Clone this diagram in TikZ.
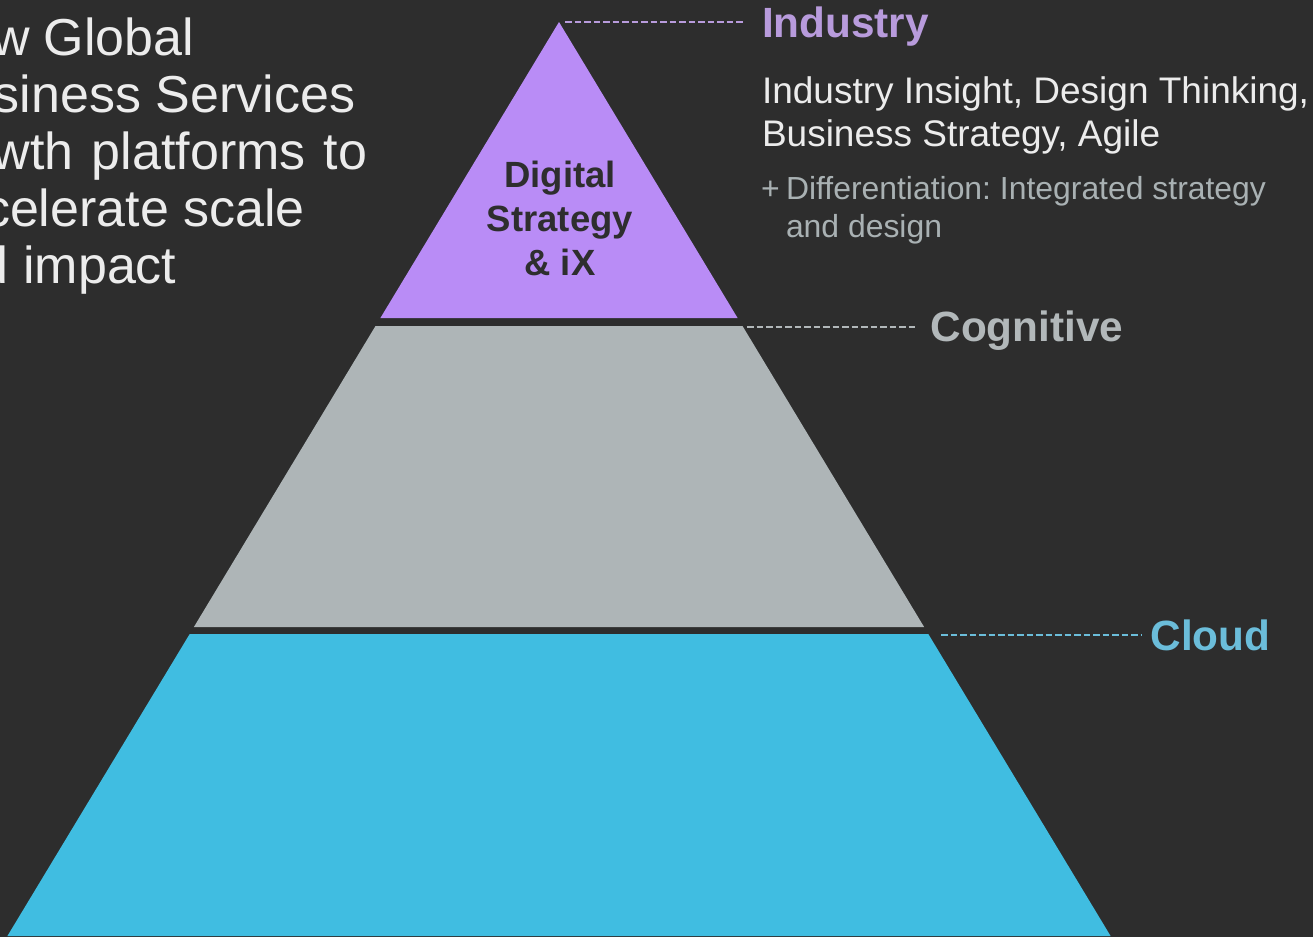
\documentclass[tikz,border=0pt]{standalone}
\usepackage{fontspec}
\setmainfont{Liberation Sans}
\usetikzlibrary{calc}
\frenchspacing

\definecolor{bg}{HTML}{2D2D2D}
\definecolor{purplefill}{HTML}{B98CF6}
\definecolor{purplelbl}{HTML}{B89BDC}
\definecolor{grayfill}{HTML}{AEB5B7}
\definecolor{graylbl}{HTML}{B2B8BA}
\definecolor{bluefill}{HTML}{40BDE1}
\definecolor{bluelbl}{HTML}{6BBDDA}
\definecolor{bodytext}{HTML}{ECECEC}
\definecolor{subtext}{HTML}{A9B1B3}
\definecolor{darktext}{HTML}{2E2E2E}

\tikzset{
  txt/.style={anchor=base west, inner sep=0pt, outer sep=0pt},
  tierlabel/.style={txt, font=\fontsize{42.3}{48}\selectfont\bfseries},
  leader/.style={line width=2pt, dash pattern=on 6.5pt off 3pt},
  headline/.style={txt, text=bodytext, font=\fontsize{52}{57}\selectfont},
  desc/.style={txt, text=bodytext, font=\fontsize{37}{43}\selectfont},
  subdesc/.style={txt, text=subtext, font=\fontsize{31.9}{38}\selectfont},
}

\begin{document}
\frenchspacing
\begin{tikzpicture}[x=1pt, y=-1pt]
\useasboundingbox (0,0) rectangle (1313,937);
\clip (0,0) rectangle (1313,937);
\fill[bg] (0,0) rectangle (1313,937);

% pyramid tiers: one triangle cut into three bands
\coordinate (apex) at (559,22);
\fill[purplefill] (apex) -- (737.6,318) -- (380.4,318) -- cycle;
\fill[grayfill] (375.5,326) -- (742.5,326) -- (924.1,627) -- (193.9,627) -- cycle;
\fill[bluefill] (189.7,634) -- (928.3,634) -- (1110.6,936) -- (7.4,936) -- cycle;

% top tier caption (base anchor sits on the last line)
\node[anchor=base, inner sep=0pt, align=center, text=darktext,
      font=\fontsize{36.5}{44}\selectfont\bfseries] (tiertext) at (560,275)
  {Digital\\Strategy\\\& iX};

% tier labels
\node[tierlabel, text=purplelbl] (industry) at (762,37) {Industry};
\node[tierlabel, text=graylbl] (cognitive) at (930.5,341) {Cognitive};
\node[tierlabel, text=bluelbl] (cloud) at (1150.5,650) {Cloud};

% leader lines
\coordinate (indA) at (565,22);  \coordinate (indB) at (745,22);
\coordinate (cogA) at (747,327); \coordinate (cogB) at (917,327);
\coordinate (clA) at (941,635);  \coordinate (clB) at (1142,635);
\draw[leader, purplelbl] (indA) -- (indB);
\draw[leader, graylbl] (cogA) -- (cogB);
\draw[leader, bluelbl] (clA) -- (clB);

% industry description
\node[desc] (desc1) at (762,103) {Industry Insight, Design Thinking,};
\node[desc] (desc2) at (762,146) {Business Strategy, Agile};
\node[subdesc] (plus) at (761,199) {+};
\node[subdesc] (diff1) at (786,199) {Differentiation: Integrated strategy};
\node[subdesc] (diff2) at (786,237) {and design};

% headline running off the left edge
\node[headline] (head1) at (-8,55) {w Global};
\node[headline] (head2) at (-6,112) {siness Services};
\node[headline] (head3) at (-7,169) {wth\hspace{18pt}platforms\hspace{18pt}to};
\node[headline] (head4) at (-16,226) {celerate scale};
\node[headline] (head5) at (-20,283) {d impact};
\end{tikzpicture}
\end{document}
